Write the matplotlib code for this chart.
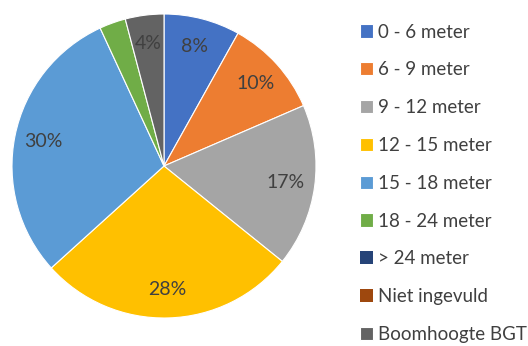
import numpy as np
import matplotlib.pyplot as plt

# boomhoogte klassen
categories = ["0 - 6 meter", "6 - 9 meter", "9 - 12 meter", "12 - 15 meter",
              "15 - 18 meter", "18 - 24 meter", "> 24 meter", "Niet ingevuld",
              "Boomhoogte BGT"]
shares = [8.1, 10.4, 17.3, 27.5, 29.8, 2.8, 0.0, 0.0, 4.1]
pct_labels = ["8%", "10%", "17%", "28%", "30%", "", "", "", "4%"]
colors = ["#4472C4", "#ED7D31", "#A5A5A5", "#FFC000", "#5B9BD5",
          "#70AD47", "#264478", "#9E480E", "#636363"]

plt.rcParams['font.family'] = ['Lato', 'DejaVu Sans']

W, H = 528, 346
fig = plt.figure(figsize=(W / 100, H / 100), dpi=100)

cx, cy, r = 164, 166, 152
ax = fig.add_axes([(cx - r) / W, (H - cy - r) / H, 2 * r / W, 2 * r / H])

wedges, _ = ax.pie(shares, colors=colors, startangle=90, counterclock=False,
                   radius=1, wedgeprops=dict(edgecolor='white', linewidth=0.8))

# empty classes should not leave a white edge line in the pie
for w, v in zip(wedges, shares):
    if v == 0:
        w.set_linewidth(0)

# percentage labels at the middle angle of each wedge
for w, lab in zip(wedges, pct_labels):
    if not lab:
        continue
    ang = np.deg2rad((w.theta1 + w.theta2) / 2)
    ax.text(0.81 * np.cos(ang), 0.81 * np.sin(ang), lab, ha='center',
            va='center', fontsize=14, color='#404040')

ax.set_xlim(-1, 1)
ax.set_ylim(-1, 1)
ax.set_aspect('equal')
ax.axis('off')

fig.legend(wedges, categories, loc='upper left',
           bbox_to_anchor=(352 / W, 1 - 16 / H), frameon=False,
           fontsize=13.5, handlelength=0.7, handleheight=0.7,
           handletextpad=0.3, labelspacing=1.11, borderaxespad=0,
           labelcolor='#404040')

fig.savefig('out.png', dpi=100)
